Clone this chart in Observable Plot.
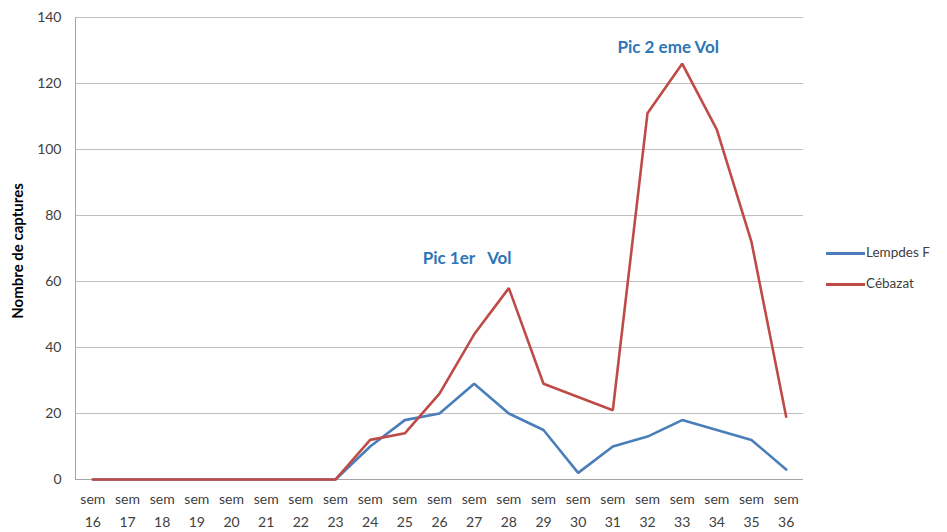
<!DOCTYPE html>
<html>
<head>
<meta charset="utf-8">
<script src="https://cdn.jsdelivr.net/npm/d3@7"></script>
<script src="https://cdn.jsdelivr.net/npm/@observablehq/plot@0.6"></script>
<style>
  html, body { margin: 0; padding: 0; background: #fff; overflow: hidden; }
  #wrap { position: relative; width: 947px; height: 532px; }
  .leg { position: absolute; font-family: Lato, "Open Sans", sans-serif; font-size: 13.5px; color: #404040; white-space: nowrap; }
  .leg span.sw { display: inline-block; width: 39px; height: 3px; vertical-align: middle; margin-right: 1px; }
</style>
</head>
<body>
<div id="wrap"></div>
<script>
const weeks = ["16","17","18","19","20","21","22","23","24","25","26","27","28","29","30","31","32","33","34","35","36"];
const lempdes = [0,0,0,0,0,0,0,0,10,18,20,29,20,15,2,10,13,18,15,12,3];
const cebazat = [0,0,0,0,0,0,0,0,12,14,26,44,58,29,25,21,111,126,106,72,19];
const seriesNames = ["Lempdes F", "Cébazat"];
const seriesColors = ["#4A7EBB", "#BE4B48"];
const yTicks = [0,20,40,60,80,100,120,140];
const notes = [
  {week: "27", y: 67, text: "Pic 1er\u2002\u00A0Vol", dx: -7},
  {week: "33", y: 131, text: "Pic 2 eme Vol", dx: -14}
];

const rows = [];
weeks.forEach((w, i) => {
  rows.push({week: w, value: lempdes[i], series: seriesNames[0]});
  rows.push({week: w, value: cebazat[i], series: seriesNames[1]});
});

const font = "Lato, 'Open Sans', sans-serif";
const chart = Plot.plot({
  width: 947,
  height: 532,
  marginLeft: 75,
  marginRight: 144,
  marginTop: 17,
  marginBottom: 53,
  style: {fontFamily: font, fontSize: "14px", color: "#404040", background: "#fff"},
  x: {type: "point", domain: weeks, padding: 0.5, round: false},
  y: {domain: [0, 140]},
  color: {domain: seriesNames, range: seriesColors},
  marks: [
    Plot.gridY(yTicks, {stroke: "#BFBFBF", strokeOpacity: 1, strokeWidth: 1}),
    Plot.ruleY([0], {stroke: "#A6A6A6"}),
    Plot.axisY({ticks: yTicks, tickSize: 0, tickPadding: 14, fontSize: 14, fill: "#404040", label: null}),
    Plot.axisX({tickSize: 0, tickPadding: 8, fontSize: 14, fill: "#404040", lineHeight: 1.65, tickFormat: d => "sem\n" + d, label: null}),
    Plot.lineY(rows, {x: "week", y: "value", stroke: "series", strokeWidth: 2.6, strokeLinejoin: "miter"}),
    ...notes.map(n => Plot.text([n], {x: "week", y: "y", text: "text", dx: n.dx, fill: "#2E75B6", fontWeight: "bold", fontSize: 17}))
  ]
});
document.getElementById("wrap").appendChild(chart);

// left axis line and axis title
const svg = d3.select(chart);
svg.append("line").attr("x1", 75.5).attr("x2", 75.5).attr("y1", 17).attr("y2", 479).attr("stroke", "#A6A6A6");
svg.append("text")
  .attr("transform", "translate(23,251) rotate(-90)")
  .attr("text-anchor", "middle")
  .attr("font-weight", "bold")
  .attr("font-size", 15)
  .attr("fill", "#000")
  .text("Nombre de captures");

// legend
const wrap = document.getElementById("wrap");
seriesNames.forEach((n, i) => {
  const d = document.createElement("div");
  d.className = "leg";
  d.style.left = "826px";
  d.style.top = (244 + i * 31) + "px";
  d.innerHTML = `<span class="sw" style="background:${seriesColors[i]}"></span>${n}`;
  wrap.appendChild(d);
});
</script>
</body>
</html>
